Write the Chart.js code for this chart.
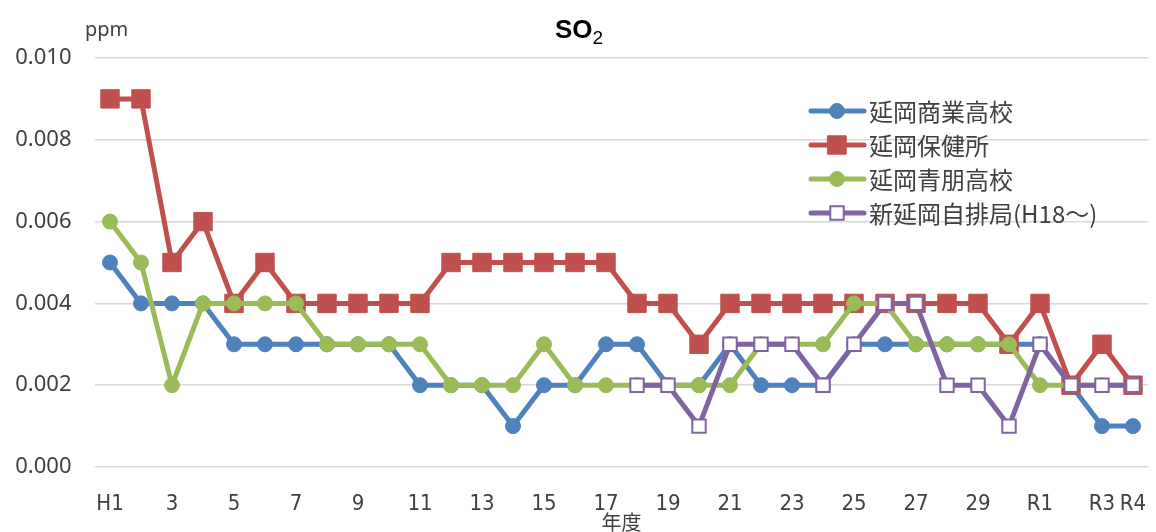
<!DOCTYPE html>
<html>
<head>
<meta charset="utf-8">
<title>SO2</title>
<script src="https://cdn.jsdelivr.net/npm/chart.js"></script>
<style>
  html, body { margin: 0; padding: 0; background: #fff; overflow: hidden; }
  #wrap { width: 1156px; height: 532px; position: relative; }
  #wrap canvas { display: block; }
</style>
</head>
<body>
<div id="wrap"><canvas id="so2Chart"></canvas></div>
<script>
// 年度 (H1..H30, R1..R4)
const years = ['H1','2','3','4','5','6','7','8','9','10','11','12','13','14','15','16','17',
  '18','19','20','21','22','23','24','25','26','27','28','29','30','R1','R2','R3','R4'];

// 年平均値 (ppm)
const shogyo = [0.005,0.004,0.004,0.004,0.003,0.003,0.003,0.003,0.003,0.003,
  0.002,0.002,0.002,0.001,0.002,0.002,0.003,0.003,0.002,0.002,
  0.003,0.002,0.002,0.002,0.003,0.003,0.003,0.003,0.003,0.003,
  0.003,0.002,0.001,0.001];
const hokenjo = [0.009,0.009,0.005,0.006,0.004,0.005,0.004,0.004,0.004,0.004,
  0.004,0.005,0.005,0.005,0.005,0.005,0.005,0.004,0.004,0.003,
  0.004,0.004,0.004,0.004,0.004,0.004,0.004,0.004,0.004,0.003,
  0.004,0.002,0.003,0.002];
const seiho = [0.006,0.005,0.002,0.004,0.004,0.004,0.004,0.003,0.003,0.003,
  0.003,0.002,0.002,0.002,0.003,0.002,0.002,0.002,0.002,0.002,
  0.002,0.003,0.003,0.003,0.004,0.004,0.003,0.003,0.003,0.003,
  0.002,0.002,0.002,0.002];
const jihai = [null,null,null,null,null,null,null,null,null,null,
  null,null,null,null,null,null,null,0.002,0.002,0.001,
  0.003,0.003,0.003,0.002,0.003,0.004,0.004,0.002,0.002,0.001,
  0.003,0.002,0.002,0.002];

const yTicks = [0, 0.002, 0.004, 0.006, 0.008, 0.010];

const textColor = '#404040';

function series(label, data, color, style, order) {
  const square = style === 'rect';
  return {
    label: label,
    data: data,
    borderColor: color,
    borderWidth: 5,
    borderJoinStyle: 'round',
    borderCapStyle: 'round',
    pointStyle: style,
    pointRadius: square ? 13 : 7.5,
    pointBackgroundColor: color,
    pointBorderColor: color,
    pointBorderWidth: 1,
    tension: 0,
    order: order
  };
}

const datasets = [
  series('延岡商業高校', shogyo, '#4F81BD', 'circle', 3),
  series('延岡保健所', hokenjo, '#C0504D', 'rect', 2),
  series('延岡青朋高校', seiho, '#9BBB59', 'circle', 1),
  Object.assign(series('新延岡自排局(H18～)', jihai, '#8064A2', 'rect', 0), {
    pointRadius: 9.5, pointBackgroundColor: '#ffffff', pointBorderWidth: 2
  })
];

// title with subscript, unit label and in-plot legend
const overlay = {
  id: 'overlay',
  afterDraw(chart) {
    const ctx = chart.ctx;
    ctx.save();
    ctx.textBaseline = 'alphabetic';
    ctx.fillStyle = '#000';
    ctx.font = 'bold 26px "Liberation Sans", Arial, sans-serif';
    ctx.fillText('SO', 555, 38);
    const w1 = ctx.measureText('SO').width;
    ctx.font = '19px "Liberation Sans", Arial, sans-serif';
    ctx.fillText('2', 555 + w1, 44);

    ctx.fillStyle = textColor;
    ctx.textBaseline = 'middle';
    ctx.font = '20px "Noto Sans", sans-serif';
    ctx.fillText('ppm', 85, 30);

    ctx.font = '24px "Noto Sans CJK JP", sans-serif';
    chart.data.datasets.forEach((ds, i) => {
      const y = 111 + i * 34;
      ctx.strokeStyle = ds.borderColor;
      ctx.lineWidth = ds.borderWidth;
      ctx.lineCap = 'round';
      ctx.beginPath();
      ctx.moveTo(811, y);
      ctx.lineTo(864, y);
      ctx.stroke();
      ctx.fillStyle = ds.pointBackgroundColor;
      ctx.strokeStyle = ds.pointBorderColor;
      ctx.lineWidth = ds.pointBorderWidth;
      Chart.helpers.drawPoint(ctx, {
        pointStyle: ds.pointStyle, radius: ds.pointRadius,
        borderWidth: ds.pointBorderWidth, rotation: 0
      }, 837, y);
      ctx.fillStyle = textColor;
      ctx.fillText(ds.label, 869, y + 1);
    });
    ctx.restore();
  }
};

const ctx = document.getElementById('so2Chart').getContext('2d');
new Chart(ctx, {
  type: 'line',
  data: { labels: years, datasets: datasets },
  plugins: [overlay],
  options: {
    responsive: true,
    maintainAspectRatio: false,
    animation: false,
    layout: { autoPadding: false, padding: { left: 0, right: 7.5, top: 58, bottom: 0 } },
    plugins: {
      legend: { display: false },
      tooltip: { enabled: false },
      title: { display: false }
    },
    scales: {
      x: {
        offset: true,
        grid: { display: false },
        border: { display: false },
        afterFit: s => { s.height = 65; s.paddingRight = 0; s.paddingLeft = 0; },
        ticks: {
          autoSkip: false,
          maxRotation: 0,
          padding: 16,
          color: textColor,
          font: { family: '"Liberation Sans Narrow", "DejaVu Sans Condensed", sans-serif', size: 22 },
          callback: (v, i) => (i % 2 === 0 || i === years.length - 1) ? years[i] : ''
        },
        title: {
          display: true,
          text: '年度',
          color: textColor,
          font: { family: '"Noto Sans CJK JP", sans-serif', size: 20 },
          padding: { top: 0, bottom: -2 }
        }
      },
      y: {
        min: yTicks[0],
        max: yTicks[yTicks.length - 1],
        afterFit: s => { s.width = 94.5; },
        afterBuildTicks: s => { s.ticks = yTicks.map(v => ({ value: v })); },
        grid: { color: '#d9d9d9', lineWidth: 1.5, drawTicks: false },
        border: { display: false },
        ticks: {
          padding: 23,
          color: textColor,
          font: { family: '"Noto Sans", sans-serif', size: 22 },
          callback: v => v.toFixed(3)
        }
      }
    }
  }
});
</script>
</body>
</html>
